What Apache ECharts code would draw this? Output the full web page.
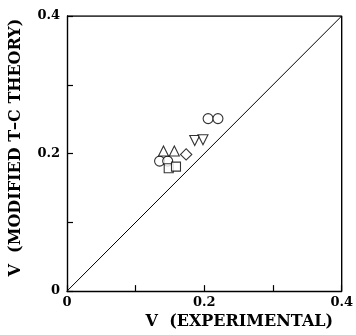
<!DOCTYPE html>
<html><head><meta charset="utf-8">
<script src="https://cdn.jsdelivr.net/npm/echarts@6/dist/echarts.min.js"></script>
<style>html,body{margin:0;padding:0;background:#fff}#c{width:356px;height:335px}</style>
</head><body><div id="c"></div>
<script>
var xTitle = 'V  (EXPERIMENTAL)';
var yTitle = 'V  (MODIFIED T–C THEORY)';
var tickLabels = {0: '0', 0.2: '0.2', 0.4: '0.4'};
var circles = [[0.2055, 0.2508], [0.2198, 0.2508], [0.1348, 0.189], [0.1466, 0.189]];
var downTriangles = [[0.186, 0.219], [0.198, 0.220]];
var upTriangles = [[0.1405, 0.2036], [0.1563, 0.2036]];
var diamonds = [[0.1735, 0.1988]];
var squares = [[0.1481, 0.1786], [0.1587, 0.181]];
var diagonal = [[0, 0], [0.4, 0.4]];

var font = '"DejaVu Serif", "Liberation Serif", serif';
function fmt(v){ var k = Math.round(v*10)/10; return tickLabels[k] !== undefined ? tickLabels[k] : ''; }
var chart = echarts.init(document.getElementById('c'));
function sc(data, symbol, size, rot){
  return {type:'scatter', data:data, symbol:symbol, symbolSize:size, symbolRotate:rot||0,
    itemStyle:{color:'#fff', borderColor:'#000', borderWidth:1.1}, z:3};
}
chart.setOption({
  animation:false,
  grid:{left:66, right:11, top:16, bottom:42, show:false},
  xAxis:{type:'value', min:0, max:0.4, interval:0.1,
    name:xTitle, nameLocation:'middle', nameGap:22,
    nameTextStyle:{fontFamily:font, fontWeight:'bold', fontSize:16, color:'#000', padding:[0,0,0,70]},
    axisLine:{onZero:false, lineStyle:{color:'#000', width:1.4}},
    axisTick:{inside:true, length:6, lineStyle:{color:'#000', width:1.2}},
    axisLabel:{formatter:fmt, fontFamily:font, fontWeight:'bold', fontSize:13, color:'#000', margin:5, showMaxLabel:true, showMinLabel:true},
    splitLine:{show:false}},
  yAxis:{type:'value', min:0, max:0.4, interval:0.1,
    name:yTitle, nameLocation:'middle', nameGap:43, nameRotate:90,
    nameTextStyle:{fontFamily:font, fontWeight:'bold', fontSize:16, color:'#000', padding:[0,0,0,12]},
    axisLine:{onZero:false, lineStyle:{color:'#000', width:1.4}},
    axisTick:{inside:true, length:6, lineStyle:{color:'#000', width:1.2}},
    axisLabel:{formatter:fmt, fontFamily:font, fontWeight:'bold', fontSize:13, color:'#000', margin:7},
    splitLine:{show:false}},
  series:[
    {type:'line', data:diagonal, symbol:'none', lineStyle:{color:'#000', width:1}, z:2},
    sc(circles, 'circle', 10),
    sc(downTriangles, 'triangle', 10, 180),
    sc(upTriangles, 'triangle', 10),
    sc(diamonds, 'rect', 8, 45),
    sc(squares, 'rect', 9),
    {type:'line', data:[[0,0.4],[0.4,0.4],[0.4,0]], symbol:'none', lineStyle:{color:'#000', width:1.4}, z:1, silent:true}
  ]
});
</script></body></html>
